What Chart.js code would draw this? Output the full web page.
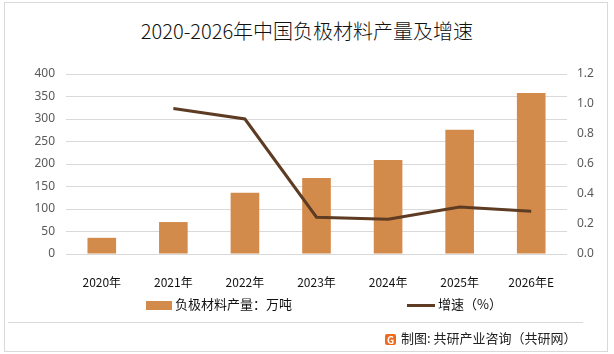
<!DOCTYPE html>
<html>
<head>
<meta charset="utf-8">
<script src="https://cdn.jsdelivr.net/npm/chart.js@4.4.1/dist/chart.umd.min.js"></script>
<style>
  body { margin: 0; background: #fff; font-family: "Noto Sans CJK SC", "Noto Sans", sans-serif; }
  #wrap { position: relative; width: 614px; height: 354px; overflow: hidden; }
  #frame { position: absolute; left: 4px; top: 2px; width: 602px; height: 348px; border: 1px solid #d9d9d9; }
  #title { position: absolute; left: 0; top: 16px; width: 614px; text-align: center; font-size: 20px; font-weight: 300; color: #111; }
  canvas { position: absolute; left: 0; top: 0; }
  .leg { position: absolute; top: 296px; font-size: 13px; color: #111; line-height: 16px; }
  .leg i { display: inline-block; vertical-align: middle; margin-right: 3px; }
  #sep { position: absolute; left: 8px; top: 322px; width: 575px; height: 1px; background: #d9d9d9; }
  #foot { position: absolute; left: 385px; top: 330px; font-size: 13px; color: #222; line-height: 16px; }
  #logo { display: inline-block; width: 11px; height: 11px; background: #f06a1d; color: #fff; font-size: 10px;
          line-height: 11px; text-align: center; font-weight: bold; border-radius: 2px; vertical-align: -1px; margin-right: 5px; }
</style>
</head>
<body>
<div id="wrap">
  <div id="frame"></div>
  <div id="title">2020-2026年中国负极材料产量及增速</div>
  <canvas id="c" width="614" height="354"></canvas>
  <div class="leg" style="left:146px"><i style="width:26px;height:9px;background:#d38b4c"></i>负极材料产量：万吨</div>
  <div class="leg" style="left:407px"><i style="width:28px;height:3px;background:#5e3c23"></i>增速（%）</div>
  <div id="sep"></div>
  <div id="foot"><span id="logo">G</span>制图: 共研产业咨询（共研网）</div>
</div>
<script>
const categories = ["2020年", "2021年", "2022年", "2023年", "2024年", "2025年", "2026年E"];
const output = [36, 71, 136, 169, 209, 276, 358];
const growth = [null, 0.97, 0.9, 0.245, 0.232, 0.313, 0.285];

const ctx = document.getElementById("c").getContext("2d");
new Chart(ctx, {
  data: {
    labels: categories,
    datasets: [
      {
        type: "line",
        data: growth,
        yAxisID: "y1",
        borderColor: "#5e3c23",
        borderWidth: 3,
        pointRadius: 0,
        tension: 0,
        fill: false,
        order: 0,
      },
      {
        type: "bar",
        data: output,
        yAxisID: "y",
        backgroundColor: "#d38b4c",
        categoryPercentage: 0.8,
        barPercentage: 0.5,
        order: 1,
      },
    ],
  },
  options: {
    responsive: false,
    animation: false,
    layout: { padding: { top: 74, left: 0, right: 0, bottom: 0 } },
    plugins: { legend: { display: false }, tooltip: { enabled: false } },
    scales: {
      x: {
        grid: { display: false },
        border: { display: false },
        ticks: { color: "#111", font: { size: 12, family: "Noto Sans CJK SC" }, padding: 13, maxRotation: 0 },
        afterFit: (s) => { s.height = 100; },
      },
      y: {
        position: "left",
        min: 0,
        max: 400,
        ticks: { stepSize: 50, color: "#595959", font: { size: 12, family: "Noto Sans" }, padding: 11 },
        grid: { color: "#d9d9d9", drawTicks: false },
        border: { display: false },
        afterFit: (s) => { s.width = 66; },
      },
      y1: {
        position: "right",
        min: 0,
        max: 1.2,
        ticks: { stepSize: 0.2, color: "#595959", font: { size: 12, family: "Noto Sans" }, padding: 10,
                 callback: (v) => v.toFixed(1) },
        grid: { display: false, drawTicks: false },
        border: { display: false },
        afterFit: (s) => { s.width = 47; },
      },
    },
  },
});
</script>
</body>
</html>
